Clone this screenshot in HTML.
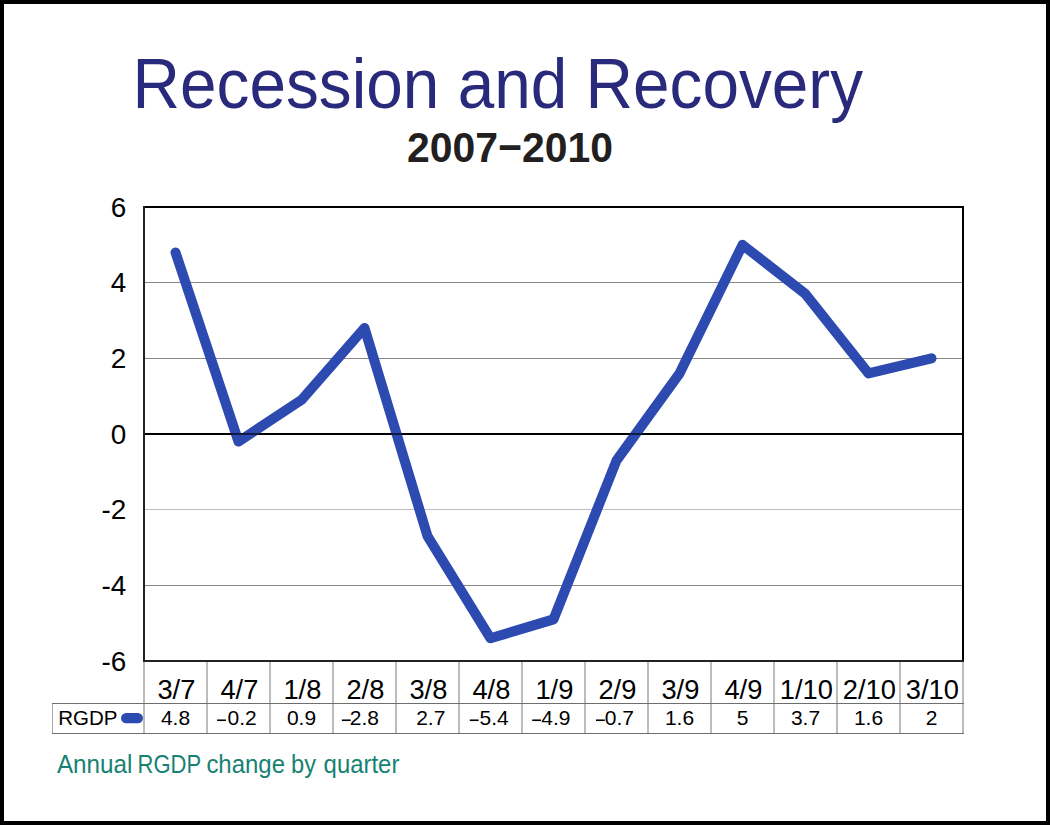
<!DOCTYPE html>
<html><head><meta charset="utf-8"><style>
html,body{margin:0;padding:0;background:#fff;}
body{width:1050px;height:825px;overflow:hidden;position:relative;}
#frame{position:absolute;left:0;top:0;width:1050px;height:825px;box-sizing:border-box;border:4px solid #000;}
svg{position:absolute;left:0;top:0;}
text{font-family:"Liberation Sans",sans-serif;}
.title{font-size:70.6px;fill:#2a2a7c;}
.sub{font-size:43.3px;font-weight:bold;fill:#231f20;}
.yl{font-size:27.9px;fill:#000;text-anchor:end;}
.cl{font-size:27.3px;fill:#000;text-anchor:middle;}
.vl{font-size:21px;fill:#000;}
.rg{font-size:20.5px;fill:#000;}
.fn{font-size:25px;fill:#178272;}
</style></head><body>
<div id="frame"></div>
<svg width="1050" height="825" viewBox="0 0 1050 825">
<text x="132.6" y="108.2" class="title" textLength="730.5" lengthAdjust="spacingAndGlyphs">Recession and Recovery</text>
<text x="407" y="161.7" class="sub" textLength="206" lengthAdjust="spacingAndGlyphs">2007−2010</text>
<line x1="144.0" y1="282.5" x2="963.0" y2="282.5" stroke="#878787" stroke-width="1"/><line x1="144.0" y1="358.5" x2="963.0" y2="358.5" stroke="#878787" stroke-width="1"/><line x1="144.0" y1="509.5" x2="963.0" y2="509.5" stroke="#bdbdbd" stroke-width="1"/><line x1="144.0" y1="585.5" x2="963.0" y2="585.5" stroke="#878787" stroke-width="1"/>
<line x1="144" y1="434" x2="963" y2="434" stroke="#000" stroke-width="2"/>
<polyline points="175.50,252.40 238.50,441.57 301.50,399.95 364.50,328.07 427.50,536.15 490.50,638.30 553.50,619.38 616.50,460.48 679.50,373.47 742.50,244.83 805.50,294.02 868.50,373.47 931.50,358.33" fill="none" stroke="#2c4ab0" stroke-width="10" stroke-linecap="round" stroke-linejoin="round"/>
<line x1="144" y1="434" x2="963" y2="434" stroke="#000" stroke-opacity="0.62" stroke-width="2"/>
<line x1="143" y1="207" x2="964" y2="207" stroke="#000" stroke-width="2"/>
<line x1="963" y1="206" x2="963" y2="662" stroke="#000" stroke-width="2"/>
<line x1="144" y1="206" x2="144" y2="662" stroke="#222" stroke-width="2"/>
<line x1="143" y1="661" x2="964" y2="661" stroke="#222" stroke-width="2"/>
<text x="126.3" y="216.50" class="yl">6</text><text x="126.3" y="292.17" class="yl">4</text><text x="126.3" y="367.83" class="yl">2</text><text x="126.3" y="443.50" class="yl">0</text><text x="126.3" y="519.17" class="yl">-2</text><text x="126.3" y="594.83" class="yl">-4</text><text x="126.3" y="670.50" class="yl">-6</text>
<line x1="144.0" y1="662.0" x2="144.0" y2="734.0" stroke="#bcbcbc" stroke-width="2"/><line x1="207.0" y1="662.0" x2="207.0" y2="734.0" stroke="#bcbcbc" stroke-width="2"/><line x1="270.0" y1="662.0" x2="270.0" y2="734.0" stroke="#bcbcbc" stroke-width="2"/><line x1="333.0" y1="662.0" x2="333.0" y2="734.0" stroke="#bcbcbc" stroke-width="2"/><line x1="396.0" y1="662.0" x2="396.0" y2="734.0" stroke="#bcbcbc" stroke-width="2"/><line x1="459.0" y1="662.0" x2="459.0" y2="734.0" stroke="#bcbcbc" stroke-width="2"/><line x1="522.0" y1="662.0" x2="522.0" y2="734.0" stroke="#bcbcbc" stroke-width="2"/><line x1="585.0" y1="662.0" x2="585.0" y2="734.0" stroke="#bcbcbc" stroke-width="2"/><line x1="648.0" y1="662.0" x2="648.0" y2="734.0" stroke="#bcbcbc" stroke-width="2"/><line x1="711.0" y1="662.0" x2="711.0" y2="734.0" stroke="#bcbcbc" stroke-width="2"/><line x1="774.0" y1="662.0" x2="774.0" y2="734.0" stroke="#bcbcbc" stroke-width="2"/><line x1="837.0" y1="662.0" x2="837.0" y2="734.0" stroke="#bcbcbc" stroke-width="2"/><line x1="900.0" y1="662.0" x2="900.0" y2="734.0" stroke="#bcbcbc" stroke-width="2"/><line x1="963.0" y1="662.0" x2="963.0" y2="734.0" stroke="#bcbcbc" stroke-width="2"/><line x1="52.5" y1="703" x2="52.5" y2="734" stroke="#aaa" stroke-width="1"/><line x1="52" y1="703.5" x2="964.0" y2="703.5" stroke="#6e6e6e" stroke-width="1"/><line x1="52" y1="733.5" x2="964.0" y2="733.5" stroke="#6e6e6e" stroke-width="1"/>
<text x="176.40" y="699.1" class="cl">3/7</text><text x="239.40" y="699.1" class="cl">4/7</text><text x="302.40" y="699.1" class="cl">1/8</text><text x="365.40" y="699.1" class="cl">2/8</text><text x="428.40" y="699.1" class="cl">3/8</text><text x="491.40" y="699.1" class="cl">4/8</text><text x="554.40" y="699.1" class="cl">1/9</text><text x="617.40" y="699.1" class="cl">2/9</text><text x="680.40" y="699.1" class="cl">3/9</text><text x="743.40" y="699.1" class="cl">4/9</text><text x="806.40" y="699.1" class="cl">1/10</text><text x="869.40" y="699.1" class="cl">2/10</text><text x="932.40" y="699.1" class="cl">3/10</text>
<text x="175.50" y="725.4" class="vl" text-anchor="middle">4.8</text><rect x="217.10" y="719.45" width="8.8" height="1.6" fill="#000"/><text x="227.60" y="725.4" class="vl" text-anchor="start">0.2</text><text x="301.50" y="725.4" class="vl" text-anchor="middle">0.9</text><rect x="341.90" y="719.45" width="8.8" height="1.6" fill="#000"/><text x="349.85" y="725.4" class="vl" text-anchor="start">2.8</text><text x="430.80" y="725.4" class="vl" text-anchor="middle">2.7</text><rect x="469.80" y="719.45" width="8.8" height="1.6" fill="#000"/><text x="479.56" y="725.4" class="vl" text-anchor="start">5.4</text><rect x="532.20" y="719.45" width="8.8" height="1.6" fill="#000"/><text x="541.30" y="725.4" class="vl" text-anchor="start">4.9</text><rect x="596.00" y="719.45" width="8.8" height="1.6" fill="#000"/><text x="604.80" y="725.4" class="vl" text-anchor="start">0.7</text><text x="679.50" y="725.4" class="vl" text-anchor="middle">1.6</text><text x="742.50" y="725.4" class="vl" text-anchor="middle">5</text><text x="805.50" y="725.4" class="vl" text-anchor="middle">3.7</text><text x="868.50" y="725.4" class="vl" text-anchor="middle">1.6</text><text x="931.50" y="725.4" class="vl" text-anchor="middle">2</text>
<text x="58.3" y="725" class="rg">RGDP</text>
<rect x="121" y="713" width="22" height="10.3" rx="5.15" fill="#2c4ab0"/>
<text x="56.95" y="773" class="fn" textLength="75.57" lengthAdjust="spacingAndGlyphs">Annual</text><text x="137.60" y="773" class="fn" textLength="63.57" lengthAdjust="spacingAndGlyphs">RGDP</text><text x="206.38" y="773" class="fn" textLength="78.68" lengthAdjust="spacingAndGlyphs">change</text><text x="291.08" y="773" class="fn" textLength="24.97" lengthAdjust="spacingAndGlyphs">by</text><text x="323.60" y="773" class="fn" textLength="75.80" lengthAdjust="spacingAndGlyphs">quarter</text>
</svg>
</body></html>
